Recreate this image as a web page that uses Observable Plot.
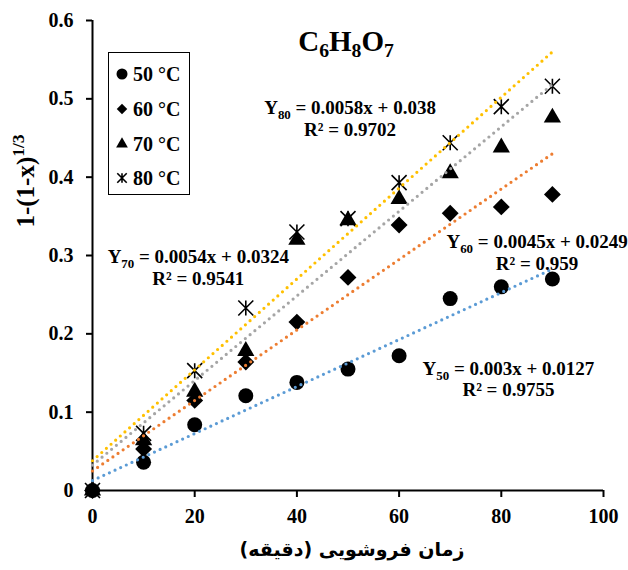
<!DOCTYPE html>
<html><head><meta charset="utf-8">
<script src="https://cdn.jsdelivr.net/npm/d3@7"></script>
<script src="https://cdn.jsdelivr.net/npm/@observablehq/plot@0.6"></script>
<style>
body{margin:0;background:#fff}
#wrap{position:relative;width:628px;height:570px;font-family:"Liberation Serif","Times New Roman",serif;font-weight:bold;color:#000;background:#fff}
.ov{position:absolute;white-space:nowrap;line-height:1}
#title{left:346px;top:44px;transform:translate(-50%,-50%);font-size:29px}
#title sub{font-size:0.68em;vertical-align:-0.28em}
#ylab{left:24px;top:181px;transform:translate(-50%,-50%) rotate(-90deg);font-size:25px}
#ylab sup{font-size:0.7em;vertical-align:0.55em}
#xlab{left:202px;width:300px;top:540px;text-align:center;font-family:"DejaVu Sans",sans-serif;font-size:19px}
#legend{left:108px;top:52px;width:80px;height:141px;border:1.6px solid #000;background:#fff}
.li{position:absolute;left:0;height:20px;display:flex;align-items:center;font-size:20px}
.li svg{margin-left:6px;margin-right:4px}
</style></head><body><div id="wrap"></div>
<script>
// ---- data ----
const times = [0, 10, 20, 30, 40, 50, 60, 70, 80, 90];
const temps = ["50 °C", "60 °C", "70 °C", "80 °C"];
const tempCodes = ["50", "60", "70", "80"];
const y50 = [0, 0.036, 0.084, 0.121, 0.138, 0.155, 0.172, 0.245, 0.260, 0.270];
const y60 = [0, 0.053, 0.115, 0.164, 0.215, 0.272, 0.339, 0.354, 0.362, 0.378];
const y70 = [0, 0.064, 0.126, 0.178, 0.320, 0.345, 0.372, 0.405, 0.438, 0.476];
const y80 = [0, 0.073, 0.153, 0.233, 0.330, 0.347, 0.393, 0.444, 0.490, 0.516];
const slopes = [0.003, 0.0045, 0.0054, 0.0058];
const intercepts = [0.0127, 0.0249, 0.0324, 0.038];
const r2 = ["0.9755", "0.959", "0.9541", "0.9702"];
const trendColors = ["#5B9BD5", "#ED7D31", "#A5A5A5", "#FFC000"];
const xTicks = [0, 20, 40, 60, 80, 100];
const yTicks = [0, 0.1, 0.2, 0.3, 0.4, 0.5, 0.6];
// annotation anchors (data coordinates) for the equation labels
const labelX = [81.4, 87.0, 20.7, 50.4];
const labelY = [0.143, 0.304, 0.285, 0.476];

const series = [y50, y60, y70, y80];
const star = {draw(ctx, size) {
  const r = Math.sqrt(size / Math.PI);
  ctx.moveTo(0, -r); ctx.lineTo(0, r);
  ctx.moveTo(-r, -r); ctx.lineTo(r, r);
  ctx.moveTo(-r, r); ctx.lineTo(r, -r);
}};
const symbols = [d3.symbolCircle, d3.symbolDiamond2, d3.symbolTriangle, star];
const radii = [7.5, 7.6, 6.4, 7.5];

const pts = series.map(s => times.map((t, i) => ({t, v: s[i]})));
const xEnd = d3.max(times);
const trend = temps.flatMap((k, i) => [0, xEnd].map(t => ({temp: k, t, v: slopes[i] * t + intercepts[i]})));
const labels = temps.map((k, i) => ({
  x: labelX[i], y: labelY[i],
  text: `Y${tempCodes[i]} = ${slopes[i]}x + ${intercepts[i]}\nR² = ${r2[i]}`
}));

const font = "'Liberation Serif','Times New Roman',serif";
const chart = Plot.plot({
  width: 628, height: 570,
  marginLeft: 92, marginRight: 25, marginTop: 20, marginBottom: 80,
  style: {fontFamily: font, fontWeight: "bold", fontSize: "19px", color: "#000", background: "#fff"},
  x: {domain: [0, 100]},
  y: {domain: [0, 0.6]},
  color: {domain: temps, range: trendColors},
  marks: [
    Plot.axisY(yTicks, {tickSize: 6, tickPadding: 13, strokeWidth: 2, fontSize: 20, label: null,
      tickFormat: d => d === 0 ? "0" : d.toFixed(1)}),
    Plot.axisX(xTicks, {tickSize: 7, tickPadding: 11, strokeWidth: 2, fontSize: 20, label: null}),
    Plot.ruleX([0], {strokeWidth: 2}),
    Plot.ruleY([0], {strokeWidth: 2}),
    ...pts.map((p, i) => Plot.dot(p, {
      x: "t", y: "v", symbol: symbols[i], r: radii[i],
      fill: i === 3 ? "none" : "#000", stroke: i === 3 ? "#000" : "none", strokeWidth: 1.6
    })),
    Plot.line(trend, {x: "t", y: "v", z: "temp", stroke: "temp", strokeWidth: 3.2,
      strokeDasharray: "0 6.2", strokeLinecap: "round"}),
    Plot.text(labels, {x: "x", y: "y", text: "text", fontSize: 19, lineHeight: 1.15,
      textAnchor: "middle", fill: "#000"})
  ]
});

// subscripts for Y_T
d3.select(chart).selectAll("tspan").each(function() {
  const m = this.textContent.match(/^Y(\d+)(.*)$/);
  if (!m) return;
  const t = d3.select(this);
  t.text(null);
  t.append("tspan").text("Y");
  t.append("tspan").attr("dy", 5).attr("font-size", "0.68em").text(m[1]);
  t.append("tspan").attr("dy", -5).text(m[2]);
});

const wrap = document.getElementById("wrap");
wrap.appendChild(chart);

function ov(id, html, attrs) {
  const d = document.createElement("div");
  d.className = "ov"; d.id = id; d.innerHTML = html;
  if (attrs) for (const k in attrs) d.setAttribute(k, attrs[k]);
  wrap.appendChild(d); return d;
}
ov("title", "C<sub>6</sub>H<sub>8</sub>O<sub>7</sub>");
ov("ylab", "1-(1-x)<sup>1/3</sup>");
ov("xlab", "زمان فروشویی (دقیقه)", {dir: "rtl"});

const legend = ov("legend", "");
const legendSizes = [95, 70, 60, 70];
const rowCenters = [21, 56, 91, 125];
temps.forEach((k, i) => {
  const row = document.createElement("div");
  row.className = "li";
  row.style.top = (rowCenters[i] - 10) + "px";
  const sym = d3.symbol(symbols[i], legendSizes[i])();
  const isStar = i === 3;
  row.innerHTML = `<svg width="14" height="14" viewBox="-7 -7 14 14"><path d="${sym}" fill="${isStar ? "none" : "#000"}" stroke="${isStar ? "#000" : "none"}" stroke-width="1.6"/></svg><span>${k}</span>`;
  legend.appendChild(row);
});
</script>
</body></html>
